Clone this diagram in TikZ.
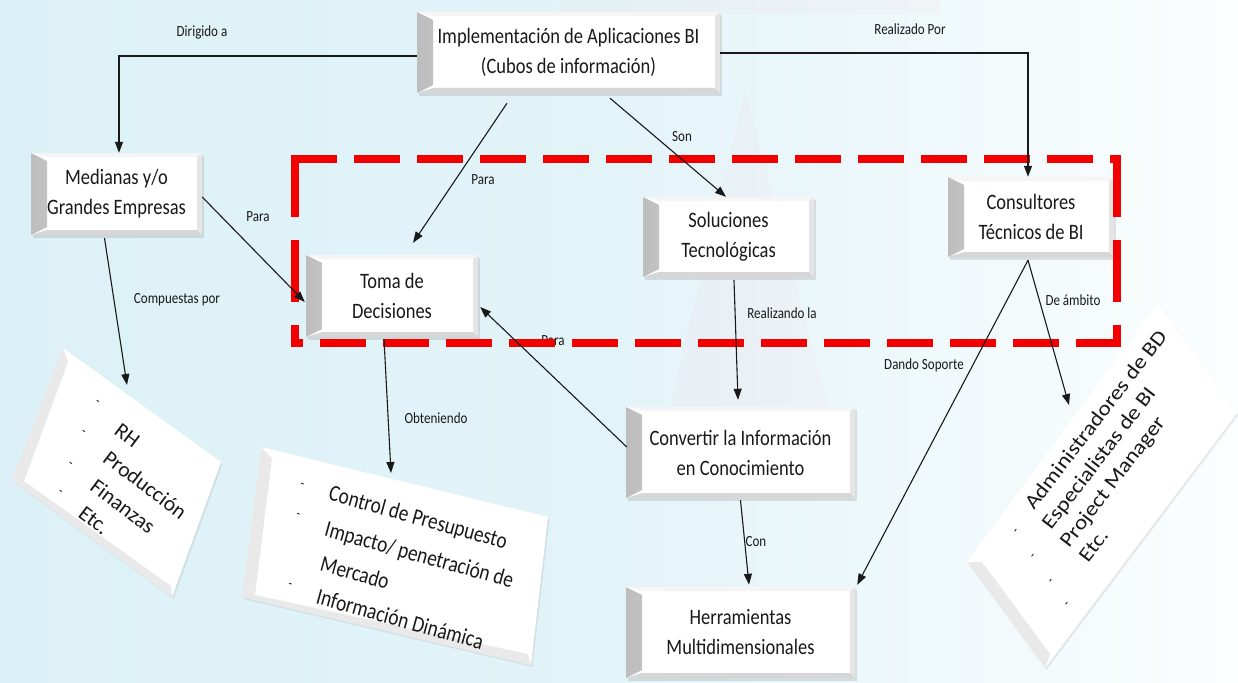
\documentclass[tikz,border=0pt]{standalone}
\usepackage{fontspec}
\setmainfont{Carlito}[FakeStretch=0.84]
\newfontfamily\tiltfont{Carlito}
\newfontfamily\widefont{Carlito}[FakeStretch=1.15]
\usetikzlibrary{arrows.meta,shadows}
\definecolor{ink}{RGB}{25,25,25}
\definecolor{dashred}{RGB}{242,0,0}
\definecolor{wash}{RGB}{220,241,247}
\definecolor{blush}{RGB}{250,212,220}

\begin{document}
\begin{tikzpicture}[x=1pt,y=-1pt,
  bevel/.style={path picture={
    \fill[left color=black!26, right color=white]
      (path picture bounding box.south west) -- (path picture bounding box.north west)
      -- ([shift={(16pt,-8pt)}]path picture bounding box.north west)
      -- ([shift={(16pt,8pt)}]path picture bounding box.south west) -- cycle;
    \fill[black!16]
      (path picture bounding box.south west) -- ([shift={(16pt,5pt)}]path picture bounding box.south west)
      -- ([shift={(-5pt,5pt)}]path picture bounding box.south east) -- (path picture bounding box.south east) -- cycle;
    \fill[black!10]
      (path picture bounding box.south east) -- ([shift={(-5pt,5pt)}]path picture bounding box.south east)
      -- ([shift={(-5pt,-4pt)}]path picture bounding box.north east) -- (path picture bounding box.north east) -- cycle;
    \fill[black!4]
      (path picture bounding box.north west) -- ([shift={(16pt,-4pt)}]path picture bounding box.north west)
      -- ([shift={(-5pt,-4pt)}]path picture bounding box.north east) -- (path picture bounding box.north east) -- cycle;
  }},
  box/.style={shape=rectangle, fill=white, inner sep=0pt, align=center, text=ink,
    font=\fontsize{22}{30}\selectfont, bevel,
    drop shadow={shadow xshift=2pt, shadow yshift=-3pt, opacity=0.22}},
  card/.style={fill=white, drop shadow={shadow xshift=1.5pt, shadow yshift=-2pt, opacity=0.15}},
  cardedge/.style={fill=black!14, fill opacity=0.6},
  conn/.style={draw=ink, line width=1.1pt, -{Triangle[length=11pt,width=8pt]}},
  lbl/.style={text=ink, inner sep=0pt, font=\fontsize{15.5}{18}\selectfont},
  listline/.style={text=ink, inner sep=0pt},
  bullet/.style={text=ink, inner sep=0pt, font=\fontsize{14}{14}\selectfont},
  hdash/.style={draw=dashred, line width=7.5pt, dash pattern=on 46pt off 17pt},
  vdash/.style={draw=dashred, line width=7.5pt, dash pattern=on 62pt off 23pt},
]
\useasboundingbox (0,0) rectangle (1238,682);

% soft backdrop
\shade[left color=wash, right color=white!90!wash, middle color=wash!80!white] (0,0) rectangle (1238,682);
\fill[blush, opacity=0.13] (655,470) -- (745,90) -- (845,470) -- cycle;
\fill[blush, opacity=0.12] (560,0) rectangle (940,14);

% rectangular concept boxes
\node[box, minimum width=303pt, minimum height=81pt] (impl) at (568.5,52.5)
  {Implementación de Aplicaciones BI\\(Cubos de información)};
\node[box, minimum width=171pt, minimum height=82pt] (med) at (116.5,194)
  {Medianas y/o\\Grandes Empresas};
\node[box, minimum width=172pt, minimum height=82pt] (toma) at (392,296)
  {Toma de\\Decisiones};
\node[box, minimum width=171pt, minimum height=80pt] (sol) at (728.5,237)
  {Soluciones\\Tecnológicas};
\node[box, minimum width=166pt, minimum height=80pt] (cons) at (1031,217)
  {Consultores\\Técnicos de BI};
\node[box, minimum width=229pt, minimum height=91pt] (conv) at (740.5,452.5)
  {Convertir la Información\\en Conocimiento};
\node[box, minimum width=229pt, minimum height=91pt] (herr) at (740.5,632.5)
  {Herramientas\\Multidimensionales};

% tilted list cards
\fill[card] (63,348) -- (221,462) -- (172,597) -- (12,480) -- cycle;
\fill[cardedge] (63,348) -- (12,480) -- (24,481) -- (68,362) -- cycle;
\fill[cardedge] (12,480) -- (172,597) -- (171,586) -- (24,481) -- cycle;

\fill[card] (261,447) -- (548,517) -- (531,665) -- (242,597) -- cycle;
\fill[cardedge] (261,447) -- (242,597) -- (255,595) -- (272,458) -- cycle;
\fill[cardedge] (242,597) -- (531,665) -- (528,654) -- (255,595) -- cycle;

\fill[card] (1158,303) -- (1237,413) -- (1045,668) -- (967,562) -- cycle;
\fill[cardedge] (967,562) -- (1045,668) -- (1050,654) -- (982,562) -- cycle;

\coordinate (areasTip) at (127,385);
\coordinate (resultTip) at (391,473);
\coordinate (rolesTip) at (1069,405);

% list texts
\begin{scope}[font=\tiltfont\fontsize{21.5}{25}\selectfont]
  \node[listline, anchor=west, rotate=-37] (rh) at (117,428) {RH};
  \node[listline, anchor=west, rotate=-37] (prod) at (106,455) {Producción};
  \node[listline, anchor=west, rotate=-37] (fin) at (93,484) {Finanzas};
  \node[listline, anchor=west, rotate=-37] (etc1) at (81,511) {Etc.};
\end{scope}
\node[bullet, rotate=-37] (b1) at (97,403) {-};
\node[bullet, rotate=-37] (b2) at (83,433) {-};
\node[bullet, rotate=-37] (b3) at (70,465) {-};
\node[bullet, rotate=-37] (b4) at (60,493) {-};

\begin{scope}[font=\fontsize{23}{26}\selectfont]
  \node[listline, anchor=west, rotate=-15.5] (ctrl) at (329,494) {Control de Presupuesto};
  \node[listline, anchor=west, rotate=-15.5] (imp) at (325,530) {Impacto/ penetración de};
  \node[listline, anchor=west, rotate=-15.5] (merc) at (321,563) {Mercado};
  \node[listline, anchor=west, rotate=-15.5] (dina) at (317,596) {Información Dinámica};
\end{scope}
\node[bullet, rotate=-15.5] (b5) at (302,486) {-};
\node[bullet, rotate=-15.5] (b6) at (298,516) {-};
\node[bullet, rotate=-15.5] (b7) at (290,586) {-};

\begin{scope}[font=\widefont\fontsize{20.5}{24}\selectfont]
  \node[listline, anchor=base west, rotate=52.5] (adm) at (1034,511) {Administradores de BD};
  \node[listline, anchor=base west, rotate=52.5] (esp) at (1051,531) {Especialistas de BI};
  \node[listline, anchor=base west, rotate=52.5] (pm) at (1069,549) {Project Manager};
  \node[listline, anchor=base west, rotate=52.5] (etc2) at (1088,564) {Etc.};
\end{scope}
\node[bullet, rotate=52.5] (b8) at (1017,532) {-};
\node[bullet, rotate=52.5] (b9) at (1034,557) {-};
\node[bullet, rotate=52.5] (b10) at (1052,582) {-};
\node[bullet, rotate=52.5] (b11) at (1068,605) {-};

% label partly hidden under the frame
\node[lbl] (t-para3) at (553,341) {Para};

% dashed frame
\draw[hdash] (291.25,159) -- (1120.75,159);
\draw[hdash, dash phase=34pt] (291.25,343) -- (1120.75,343);
\draw[vdash] (295,155.25) -- (295,346.75);
\draw[vdash] (1117,155.25) -- (1117,346.75);

% connectors
\draw[conn] ([yshift=-3.5pt]impl.west) -| ([xshift=2.5pt]med.north);
\draw[conn] ([yshift=-0.5pt]impl.east) -| ([xshift=-3pt]cons.north);
\draw[conn] ([xshift=-61.5pt,yshift=-10pt]impl.south) -- ([xshift=21pt,yshift=12pt]toma.north);
\draw[conn] ([xshift=41.5pt,yshift=-5pt]impl.south) -- ([xshift=-2.5pt]sol.north);
\draw[conn] ([yshift=-3pt]med.east) -- ([xshift=-1pt,yshift=-6pt]toma.west);
\draw[conn] ([xshift=-12pt,yshift=-3pt]med.south) -- (areasTip);
\draw[conn] ([xshift=-8pt,yshift=-2pt]toma.south) -- (resultTip);
\draw[conn] ([xshift=1pt,yshift=5.5pt]conv.west) -- ([xshift=2pt,yshift=-11pt]toma.east);
\draw[conn] ([xshift=5.5pt,yshift=-3pt]sol.south) -- ([xshift=-2.5pt,yshift=7pt]conv.north);
\draw[conn] ([yshift=-2pt]conv.south) -- ([xshift=8.5pt,yshift=2pt]herr.north);
\draw[conn] ([xshift=-3pt,yshift=-3pt]cons.south) -- ([xshift=2pt,yshift=2pt]herr.north east);
\draw[conn] ([xshift=-3pt,yshift=-3pt]cons.south) -- (rolesTip);

% connector labels
\node[lbl] (t-dir) at (202,32) {Dirigido a};
\node[lbl] (t-real) at (910,29) {Realizado Por};
\node[lbl] (t-para1) at (483,180) {Para};
\node[lbl] (t-para2) at (258,217) {Para};
\node[lbl] (t-son) at (682,137) {Son};
\node[lbl] (t-comp) at (177,300) {Compuestas por};
\node[lbl] (t-reali) at (782,313) {Realizando la};
\node[lbl] (t-amb) at (1073,300) {De ámbito};
\node[lbl] (t-obt) at (436,418) {Obteniendo};
\node[lbl] (t-dando) at (924,365) {Dando Soporte};
\node[lbl] (t-con) at (756,542) {Con};
\end{tikzpicture}
\end{document}
